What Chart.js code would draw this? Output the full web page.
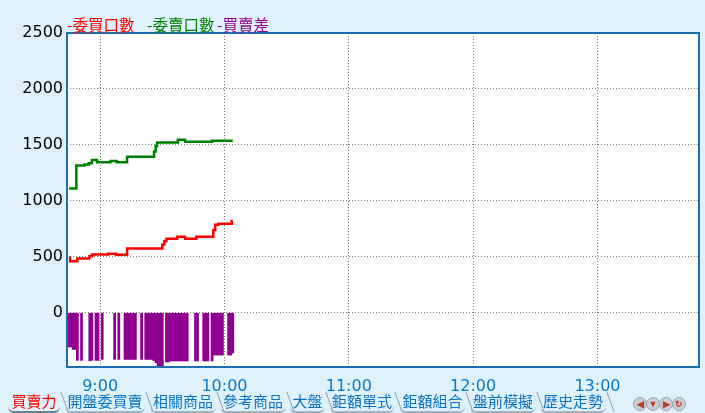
<!DOCTYPE html>
<html>
<head>
<meta charset="utf-8">
<script src="https://cdn.jsdelivr.net/npm/chart.js@4/dist/chart.umd.min.js"></script>
<style>
  html, body { margin: 0; padding: 0; background: #dff1fb; }
  #wrap { position: relative; width: 705px; height: 413px; overflow: hidden; background: #dff1fb; }
  #myChart { position: absolute; left: 0; top: 0; }
  .leg { position: absolute; top: 14px; font: 15.5px "Noto Sans CJK TC", sans-serif; line-height: 20px; white-space: nowrap; }
  .tab { position: absolute; top: 390px; height: 21px; font: 15px "Noto Sans CJK TC", sans-serif; line-height: 22px;
         color: #0a72c4; white-space: nowrap; border-bottom: 2px solid #9eb2bf; border-radius: 0 0 6px 6px; }
  .tab::after { content: ""; position: absolute; right: -5px; top: 2px; height: 20px; width: 1px; background: #8aa0ad; transform: skewX(20deg); }
  .tab.on { color: #ff0000; border-bottom-color: #6d7f8a; }
  .nav { position: absolute; top: 397px; width: 12px; height: 12px; border-radius: 50%; background: #c9cfd6; border: 1px solid #9aa4ad;
         font: bold 9px sans-serif; color: #c0392b; text-align: center; line-height: 12px; }
</style>
</head>
<body>
<div id="wrap">
  <canvas id="myChart" width="705" height="413"></canvas>
  <span class="leg" style="left:67px;color:#ff0000">-委買口數</span>
  <span class="leg" style="left:147px;color:#008000">-委賣口數</span>
  <span class="leg" style="left:217px;color:#900090">-買賣差</span>

  <span class="tab on" style="left:8px;width:52px;text-align:center">買賣力</span>
  <span class="tab" style="left:65px;width:80px;text-align:center">開盤委買賣</span>
  <span class="tab" style="left:150px;width:66px;text-align:center">相關商品</span>
  <span class="tab" style="left:220px;width:66px;text-align:center">參考商品</span>
  <span class="tab" style="left:290px;width:35px;text-align:center">大盤</span>
  <span class="tab" style="left:330px;width:64px;text-align:center">鉅額單式</span>
  <span class="tab" style="left:400px;width:65px;text-align:center">鉅額組合</span>
  <span class="tab" style="left:470px;width:66px;text-align:center">盤前模擬</span>
  <span class="tab" style="left:540px;width:66px;text-align:center">歷史走勢</span>

  <span class="nav" style="left:633px">◀</span>
  <span class="nav" style="left:646px">▼</span>
  <span class="nav" style="left:659px">▶</span>
  <span class="nav" style="left:672px">↻</span>
</div>
<script>
// minutes counted from 9:00
const timeTicks = [0, 60, 120, 180, 240];
const timeLabels = ["9:00", "10:00", "11:00", "12:00", "13:00"];
const valueTicks = [0, 500, 1000, 1500, 2000, 2500];

// 委買口數 (red)
const bidTimes = [-15, -14.5, -11, -5.3, -3.9, 3.9, 7.7, 13, 30, 31, 32, 37.2, 41, 46.4, 54.6, 55.5, 57, 63.5, 64];
const bidValues = [495, 460, 485, 505, 520, 527, 518, 574, 610, 640, 661, 679, 661, 679, 740, 786, 795, 819, 819];

// 委賣口數 (green)
const askTimes = [-15, -11.5, -7.5, -5.5, -4, -1.5, 5, 8, 13, 26, 26.8, 27.5, 37.5, 41, 54, 64];
const askValues = [1110, 1315, 1325, 1335, 1365, 1345, 1355, 1345, 1395, 1440, 1490, 1521, 1545, 1527, 1536, 1536];

// 買賣差 (purple bars)
const diffTimes = [-15, -14, -13, -12, -11, -9, -5, -4, -2, -1, 1, 7, 9, 12, 13, 14, 15, 16, 17, 20,
  22, 23, 24, 25, 26, 27, 28, 29, 30, 32, 33, 34, 35, 36, 37, 38, 39, 40, 41, 42,
  46, 47, 50, 51, 52, 54, 55, 56, 57, 58, 59, 62, 63, 64];
const diffValues = [-306, -306, -328, -328, -426, -426, -430, -426, -426, -426, -417, -417, -417, -417, -417, -417, -417, -417, -417, -417,
  -417, -417, -417, -417, -429, -447, -520, -520, -520, -440, -440, -431, -431, -431, -431, -431, -431, -431, -431, -431,
  -431, -431, -431, -431, -431, -431, -378, -378, -378, -378, -378, -378, -378, -360];

const toPoints = (xs, ys) => xs.map((x, i) => ({ x: x, y: ys[i] }));

const plotFrame = {
  id: "plotFrame",
  beforeDatasetsDraw(chart) {
    const { ctx, chartArea: a } = chart;
    ctx.save();
    ctx.fillStyle = "#ffffff";
    ctx.fillRect(a.left, a.top, a.right - a.left, a.bottom - a.top);
    ctx.restore();
  },
  afterDraw(chart) {
    const { ctx, chartArea: a } = chart;
    ctx.save();
    ctx.strokeStyle = "#1f6db0";
    ctx.lineWidth = 2;
    ctx.strokeRect(a.left, a.top, a.right - a.left, a.bottom - a.top);
    ctx.restore();
  },
};

const ctx = document.getElementById("myChart");

const myChart = new Chart(ctx, {
  type: "bar",
  data: {
    datasets: [
      {
        type: "line",
        label: "委買口數",
        data: toPoints(bidTimes, bidValues),
        borderColor: "#ff0000",
        borderWidth: 2.5,
        pointRadius: 0,
        stepped: true,
        order: 1,
      },
      {
        type: "line",
        label: "委賣口數",
        data: toPoints(askTimes, askValues),
        borderColor: "#008000",
        borderWidth: 2.5,
        pointRadius: 0,
        stepped: true,
        order: 1,
      },
      {
        label: "買賣差",
        data: toPoints(diffTimes, diffValues),
        backgroundColor: "#900090",
        borderWidth: 0,
        barThickness: 2.1,
        order: 2,
      },
    ],
  },
  options: {
    responsive: false,
    animation: false,
    layout: { padding: { top: 33, right: 6, left: 0, bottom: 0 } },
    plugins: { legend: { display: false }, tooltip: { enabled: false } },
    scales: {
      x: {
        type: "linear",
        min: -16,
        max: 289,
        offset: false,
        afterFit: (scale) => { scale.height = 46; },
        afterBuildTicks: (scale) => { scale.ticks = timeTicks.map((v) => ({ value: v })); },
        grid: {
          offset: false,
          color: "#808070",
          lineWidth: 1,
          drawTicks: false,
          z: 1,
        },
        border: { display: false, dash: [1, 2] },
        ticks: {
          padding: 10,
          color: "#0a78c8",
          font: { family: "DejaVu Sans", size: 16 },
          maxRotation: 0,
          callback: (v) => timeLabels[timeTicks.indexOf(v)],
        },
      },
      y: {
        min: -485,
        max: 2500,
        afterFit: (scale) => { scale.width = 67; },
        afterBuildTicks: (scale) => { scale.ticks = valueTicks.map((v) => ({ value: v })); },
        grid: {
          color: "#808070",
          lineWidth: 1,
          drawTicks: false,
          z: 1,
        },
        border: { display: false, dash: [1, 2] },
        ticks: {
          padding: 4,
          color: "#000",
          font: { family: "DejaVu Sans", size: 16 },
          callback: (v) => String(v),
        },
      },
    },
  },
  plugins: [plotFrame],
});
</script>
</body>
</html>
